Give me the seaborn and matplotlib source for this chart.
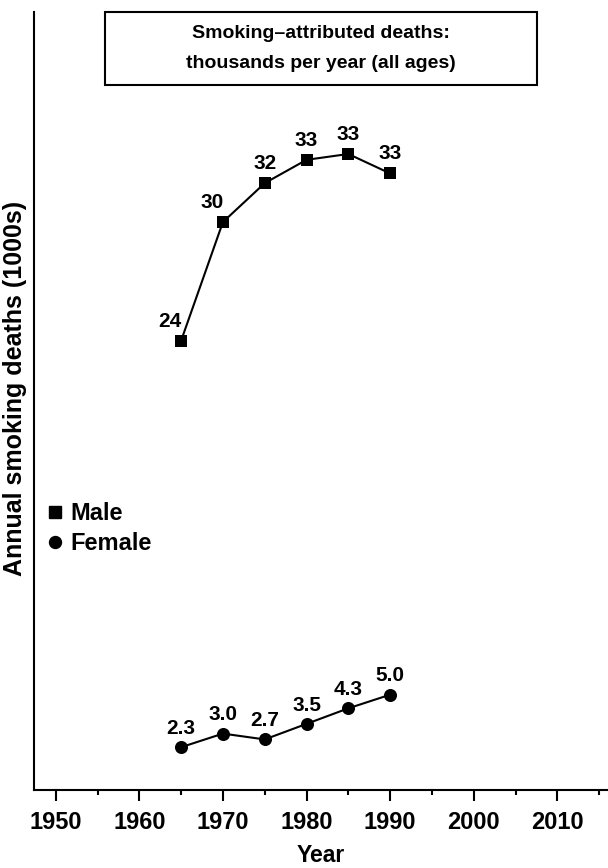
import matplotlib
matplotlib.use("Agg")
import matplotlib.pyplot as plt
import seaborn as sns
import pandas as pd
from matplotlib.lines import Line2D
from matplotlib.patches import Rectangle

# Data
years = [1965, 1970, 1975, 1980, 1985, 1990]
male_deaths = [23.2, 29.3, 31.3, 32.5, 32.8, 31.8]
male_labels = ["24", "30", "32", "33", "33", "33"]
female_deaths = [2.3, 3.0, 2.7, 3.5, 4.3, 5.0]
female_labels = ["2.3", "3.0", "2.7", "3.5", "4.3", "5.0"]
x_ticks = [1950, 1960, 1970, 1980, 1990, 2000, 2010]
x_minor = [1955, 1965, 1975, 1985, 1995, 2005, 2015]

sns.set_style("ticks")
plt.rcParams["font.family"] = ["Liberation Sans", "DejaVu Sans"]
plt.rcParams["font.weight"] = "bold"
plt.rcParams["axes.labelweight"] = "bold"
plt.rcParams["text.color"] = "black"
plt.rcParams["axes.labelcolor"] = "black"
plt.rcParams["xtick.color"] = "black"
plt.rcParams["ytick.color"] = "black"

male_df = pd.DataFrame({"Year": years, "Deaths": male_deaths})
female_df = pd.DataFrame({"Year": years, "Deaths": female_deaths})

W, H = 608, 868
fig = plt.figure(figsize=(W / 100, H / 100), dpi=100)
ax = fig.add_axes([34.3 / W, 78 / H, (W - 34.3) / W, 778 / H])

sns.lineplot(data=male_df, x="Year", y="Deaths", color="black", marker="s",
             markersize=8.6, markeredgewidth=0, markeredgecolor="black",
             linewidth=1.5, ax=ax, legend=False)
sns.lineplot(data=female_df, x="Year", y="Deaths", color="black", marker="o",
             markersize=9.4, markeredgewidth=0, markeredgecolor="black",
             linewidth=1.5, ax=ax, legend=False)

# value labels
for i, (x, y, lbl) in enumerate(zip(years, male_deaths, male_labels)):
    dx = -8 if i < 2 else 0
    ax.annotate(lbl, (x, y), xytext=(dx, 14), textcoords="offset points",
                ha="center", va="center", fontsize=15, fontweight="bold")
for x, y, lbl in zip(years, female_deaths, female_labels):
    ax.annotate(lbl, (x, y), xytext=(0, 13.5), textcoords="offset points",
                ha="center", va="center", fontsize=15, fontweight="bold")

ax.set_xlim(1947.44, 2016.06)
ax.set_ylim(0.1, 40.1)
ax.set_xticks(x_ticks)
ax.set_xticks(x_minor, minor=True)
ax.set_yticks([])
ax.tick_params(axis="x", which="major", length=8, width=1.5, labelsize=17,
               pad=7, color="black")
ax.tick_params(axis="x", which="minor", length=3.8, width=1.5, color="black")
sns.despine(ax=ax)
for s in ["left", "bottom"]:
    ax.spines[s].set_linewidth(1.5)
    ax.spines[s].set_color("black")

ax.set_xlabel("Year", fontsize=16.5, labelpad=7)
ax.set_ylabel("Annual smoking deaths (1000s)", fontsize=18)
ax.yaxis.set_label_coords(-0.012, 0.516)

# legend
handles = [
    Line2D([], [], color="black", marker="s", linestyle="none", markersize=8),
    Line2D([], [], color="black", marker="o", linestyle="none", markersize=8.6),
]
ax.legend(handles, ["Male", "Female"], loc="upper left",
          bbox_to_anchor=(0.0239, 0.37), frameon=False, fontsize=17,
          handlelength=0.6, handletextpad=0.35, labelspacing=0.31,
          borderpad=0, borderaxespad=0)

# title box
fig.add_artist(Rectangle((105 / W, 1 - 85 / H), 432 / W, 73 / H,
                         transform=fig.transFigure, fill=False,
                         linewidth=1.5, edgecolor="black"))
fig.text(321 / W, 1 - 48 / H,
         "Smoking\u2013attributed deaths:\nthousands per year (all ages)",
         ha="center", va="center", fontsize=14, fontweight="bold",
         linespacing=2.0)

fig.savefig("out.png", dpi=100)
